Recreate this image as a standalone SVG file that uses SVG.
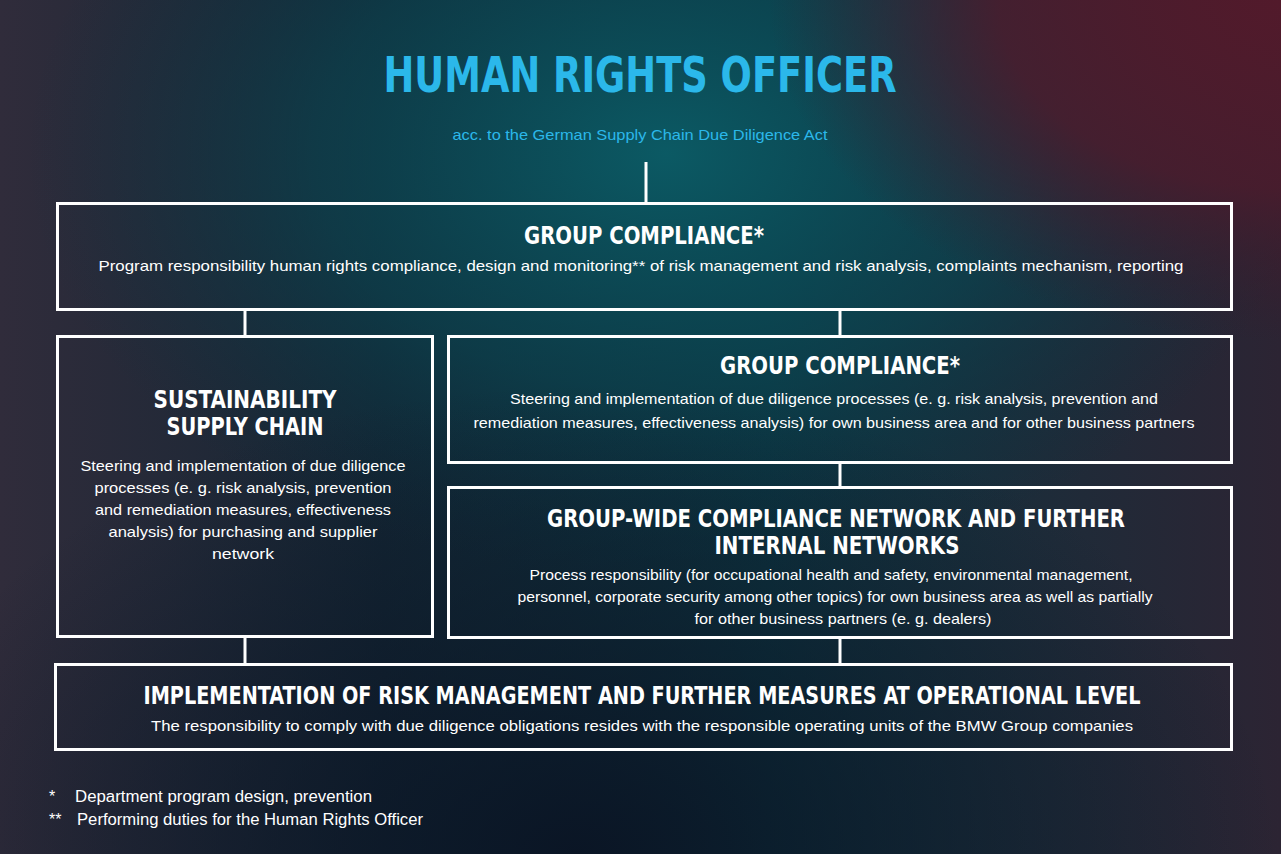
<svg xmlns="http://www.w3.org/2000/svg" width="1281" height="854" viewBox="0 0 1281 854">
<defs>
<linearGradient id="bgBase" x1="0" y1="0" x2="1" y2="0">
<stop offset="0" stop-color="#302c3b"/>
<stop offset="0.3" stop-color="#142634"/>
<stop offset="0.6" stop-color="#0d3440"/>
<stop offset="1" stop-color="#2c2433"/>
</linearGradient>
<radialGradient id="teal" cx="0.52" cy="0.18" r="0.5">
<stop offset="0" stop-color="#0b5c66" stop-opacity="0.95"/>
<stop offset="0.55" stop-color="#0a4652" stop-opacity="0.6"/>
<stop offset="1" stop-color="#0a3040" stop-opacity="0"/>
</radialGradient>
<radialGradient id="red" cx="1.0" cy="0.0" r="0.4">
<stop offset="0" stop-color="#521a2b"/>
<stop offset="0.55" stop-color="#4c1b2c" stop-opacity="0.85"/>
<stop offset="1" stop-color="#3a1a2b" stop-opacity="0"/>
</radialGradient>
<radialGradient id="dark" cx="0.45" cy="1.0" r="0.55">
<stop offset="0" stop-color="#0a1424" stop-opacity="0.95"/>
<stop offset="1" stop-color="#0a1424" stop-opacity="0"/>
</radialGradient>
<style>
.box{fill:none;stroke:#ffffff;stroke-width:3}
.con{stroke:#ffffff;stroke-width:3;fill:none}
.h{font-family:"Liberation Sans Narrow","DejaVu Sans Condensed","Liberation Sans",sans-serif;font-weight:bold;fill:#ffffff;text-anchor:middle}
.b{font-family:"Liberation Sans","DejaVu Sans",sans-serif;fill:#ffffff;text-anchor:middle;font-size:15px}
.t{font-family:"Liberation Sans Narrow","DejaVu Sans Condensed","Liberation Sans",sans-serif;font-weight:bold;fill:#2bb8ea;text-anchor:middle}
.s{font-family:"Liberation Sans","DejaVu Sans",sans-serif;fill:#2bb8ea;text-anchor:middle;font-size:15px}
.f{font-family:"Liberation Sans","DejaVu Sans",sans-serif;fill:#ffffff;font-size:16px}
</style>
</defs>
<rect width="1281" height="854" fill="url(#bgBase)"/>
<rect width="1281" height="854" fill="url(#teal)"/>
<rect width="1281" height="854" fill="url(#red)"/>
<rect width="1281" height="854" fill="url(#dark)"/>

<g id="title">
<text class="t" x="640" y="92" font-size="50" textLength="513" lengthAdjust="spacingAndGlyphs">HUMAN RIGHTS OFFICER</text>
<text class="s" x="640" y="140" textLength="375" lengthAdjust="spacingAndGlyphs">acc. to the German Supply Chain Due Diligence Act</text>
</g>

<g id="connectors">
<line class="con" x1="646" y1="162" x2="646" y2="203"/>
<line class="con" x1="245" y1="310" x2="245" y2="336"/>
<line class="con" x1="840" y1="310" x2="840" y2="336"/>
<line class="con" x1="840" y1="463" x2="840" y2="487"/>
<line class="con" x1="245" y1="637" x2="245" y2="664"/>
<line class="con" x1="840" y1="638" x2="840" y2="664"/>
</g>

<g id="group-compliance-top">
<rect class="box" x="57.5" y="203.5" width="1174" height="106"/>
<text class="h" x="644" y="244" font-size="25" textLength="240" lengthAdjust="spacingAndGlyphs">GROUP COMPLIANCE*</text>
<text class="b" x="641" y="271" textLength="1085" lengthAdjust="spacingAndGlyphs">Program responsibility human rights compliance, design and monitoring** of risk management and risk analysis, complaints mechanism, reporting</text>
</g>

<g id="sustainability-supply-chain">
<rect class="box" x="57.5" y="336.5" width="375" height="300"/>
<text class="h" x="245" y="408" font-size="25" textLength="183" lengthAdjust="spacingAndGlyphs">SUSTAINABILITY</text>
<text class="h" x="245" y="435" font-size="25" textLength="157" lengthAdjust="spacingAndGlyphs">SUPPLY CHAIN</text>
<text class="b" x="243" y="471" font-size="16" textLength="325" lengthAdjust="spacingAndGlyphs">Steering and implementation of due diligence</text>
<text class="b" x="243" y="493" font-size="16" textLength="297" lengthAdjust="spacingAndGlyphs">processes (e. g. risk analysis, prevention</text>
<text class="b" x="243" y="515" font-size="16" textLength="296" lengthAdjust="spacingAndGlyphs">and remediation measures, effectiveness</text>
<text class="b" x="243" y="537" font-size="16" textLength="269" lengthAdjust="spacingAndGlyphs">analysis) for purchasing and supplier</text>
<text class="b" x="243" y="559" font-size="16" textLength="62" lengthAdjust="spacingAndGlyphs">network</text>
</g>

<g id="group-compliance-right">
<rect class="box" x="448.5" y="336.5" width="783" height="126"/>
<text class="h" x="840" y="374" font-size="25" textLength="240" lengthAdjust="spacingAndGlyphs">GROUP COMPLIANCE*</text>
<text class="b" x="834" y="404" textLength="648" lengthAdjust="spacingAndGlyphs">Steering and implementation of due diligence processes (e. g. risk analysis, prevention and</text>
<text class="b" x="834" y="428" textLength="721" lengthAdjust="spacingAndGlyphs">remediation measures, effectiveness analysis) for own business area and for other business partners</text>
</g>

<g id="group-wide-network">
<rect class="box" x="448.5" y="487.5" width="783" height="150"/>
<text class="h" x="836" y="527" font-size="25" textLength="578" lengthAdjust="spacingAndGlyphs">GROUP-WIDE COMPLIANCE NETWORK AND FURTHER</text>
<text class="h" x="837" y="554" font-size="25" textLength="245" lengthAdjust="spacingAndGlyphs">INTERNAL NETWORKS</text>
<text class="b" x="831" y="580" textLength="603" lengthAdjust="spacingAndGlyphs">Process responsibility (for occupational health and safety, environmental management,</text>
<text class="b" x="835" y="602" textLength="635" lengthAdjust="spacingAndGlyphs">personnel, corporate security among other topics) for own business area as well as partially</text>
<text class="b" x="843" y="624" textLength="297" lengthAdjust="spacingAndGlyphs">for other business partners (e. g. dealers)</text>
</g>

<g id="implementation">
<rect class="box" x="55.5" y="664.5" width="1176" height="85"/>
<text class="h" x="642" y="704" font-size="24" textLength="997" lengthAdjust="spacingAndGlyphs">IMPLEMENTATION OF RISK MANAGEMENT AND FURTHER MEASURES AT OPERATIONAL LEVEL</text>
<text class="b" x="642" y="731" textLength="982" lengthAdjust="spacingAndGlyphs">The responsibility to comply with due diligence obligations resides with the responsible operating units of the BMW Group companies</text>
</g>

<g id="footnotes">
<text class="f" x="49" y="802">*</text>
<text class="f" x="75" y="802" textLength="297" lengthAdjust="spacingAndGlyphs">Department program design, prevention</text>
<text class="f" x="49" y="825">**</text>
<text class="f" x="77" y="825" textLength="346" lengthAdjust="spacingAndGlyphs">Performing duties for the Human Rights Officer</text>
</g>
</svg>
